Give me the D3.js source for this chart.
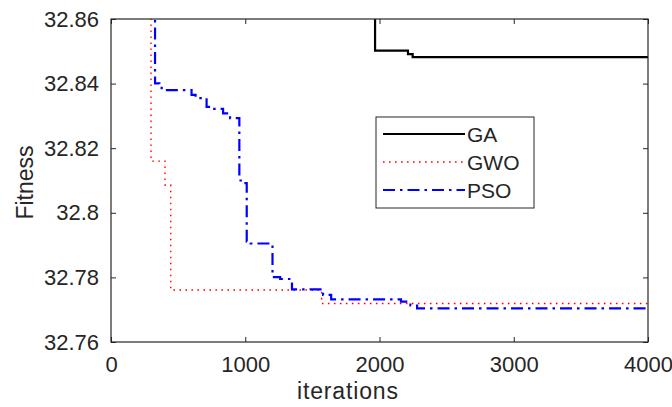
<!DOCTYPE html>
<html>
<head>
<meta charset="utf-8">
<script src="https://cdn.jsdelivr.net/npm/d3@7"></script>
<style>
  html, body { margin: 0; padding: 0; background: #fff; }
  svg { display: block; font-family: "Liberation Sans", Arial, sans-serif; }
</style>
</head>
<body>
<svg id="chart" width="672" height="407"></svg>
<script>
// Best fitness per iteration (step changes only; each value holds until the next step)
const gaIter = [1, 1967, 2212, 2247, 4000];
const gaFit  = [32.95, 32.8502, 32.8491, 32.8482, 32.8482];

const gwoIter = [1, 298, 402, 445, 1569, 4000];
const gwoFit  = [32.95, 32.8160, 32.8086, 32.7761, 32.7719, 32.7719];

const psoIter = [1, 328, 360, 377, 390, 600, 630, 712, 760, 835, 887, 956, 985,
                 1011, 1040, 1203, 1260, 1348, 1580, 1640, 2160, 2230, 2280, 4000];
const psoFit  = [32.95, 32.8401, 32.8396, 32.8386, 32.8380, 32.8365, 32.8355, 32.8328,
                 32.8322, 32.8308, 32.8293, 32.8100, 32.8092, 32.7911, 32.7905, 32.7801,
                 32.7795, 32.7763, 32.7746, 32.7732, 32.7725, 32.7713, 32.7704, 32.7704];

const xTicks = [0, 1000, 2000, 3000, 4000];
const yTicks = [32.76, 32.78, 32.80, 32.82, 32.84, 32.86];
const yTickLabels = ["32.76", "32.78", "32.8", "32.82", "32.84", "32.86"];

const seriesNames = ["GA", "GWO", "PSO"];

const svg = d3.select("#chart");
const plot = { left: 111, right: 648, top: 19, bottom: 342 };
const axisColor = "#262626";

const x = d3.scaleLinear().domain([0, 4000]).range([plot.left, plot.right]);
const y = d3.scaleLinear().domain([32.76, 32.86]).range([plot.bottom, plot.top]);

svg.append("defs").append("clipPath").attr("id", "plotClip")
  .append("rect")
  .attr("x", plot.left).attr("y", plot.top)
  .attr("width", plot.right - plot.left).attr("height", plot.bottom - plot.top);

// Axes with inward ticks on all four sides
const tickLen = 5;
const bottomAxis = d3.axisBottom(x).tickValues(xTicks).tickSizeInner(-tickLen).tickSizeOuter(0)
  .tickPadding(14).tickFormat(d3.format("d"));
const topAxis = d3.axisTop(x).tickValues(xTicks).tickSizeInner(-tickLen).tickSizeOuter(0).tickFormat("");
const leftAxis = d3.axisLeft(y).tickValues(yTicks).tickSizeInner(-tickLen).tickSizeOuter(0)
  .tickPadding(12).tickFormat((d, i) => yTickLabels[i]);
const rightAxis = d3.axisRight(y).tickValues(yTicks).tickSizeInner(-tickLen).tickSizeOuter(0).tickFormat("");

function styleAxis(g) {
  g.select(".domain").remove();
  g.selectAll(".tick line").attr("stroke", axisColor).attr("stroke-width", 1);
  g.selectAll(".tick text").attr("fill", axisColor).attr("font-size", 22)
    .attr("font-family", "'Liberation Sans', Arial, sans-serif");
}

svg.append("g").attr("transform", `translate(0,${plot.bottom})`).call(bottomAxis).call(styleAxis);
svg.append("g").attr("transform", `translate(0,${plot.top})`).call(topAxis).call(styleAxis);
svg.append("g").attr("transform", `translate(${plot.left},0)`).call(leftAxis).call(styleAxis);
svg.append("g").attr("transform", `translate(${plot.right},0)`).call(rightAxis).call(styleAxis);

// Series lines
const stepLine = d3.line().x(d => x(d[0])).y(d => y(d[1])).curve(d3.curveStepAfter);
const lines = svg.append("g").attr("clip-path", "url(#plotClip)");

const series = [
  { name: seriesNames[0], iter: gaIter, fit: gaFit, color: "#000000", width: 2.2, dash: null },
  { name: seriesNames[1], iter: gwoIter, fit: gwoFit, color: "#ff0000", width: 1.4, dash: "1.6,4.4" },
  { name: seriesNames[2], iter: psoIter, fit: psoFit, color: "#0000ff", width: 2.2, dash: "12,5,2.5,5" }
];

series.forEach(s => {
  lines.append("path")
    .datum(s.iter.map((t, i) => [t, s.fit[i]]))
    .attr("d", stepLine)
    .attr("fill", "none")
    .attr("stroke", s.color)
    .attr("stroke-width", s.width)
    .attr("stroke-dasharray", s.dash);
});

// Plot box
svg.append("rect")
  .attr("x", plot.left).attr("y", plot.top)
  .attr("width", plot.right - plot.left).attr("height", plot.bottom - plot.top)
  .attr("fill", "none").attr("stroke", axisColor).attr("stroke-width", 1.2);

// Axis titles
svg.append("text")
  .attr("x", 297).attr("y", 399)
  .attr("font-size", 23).attr("fill", axisColor)
  .attr("textLength", 101).attr("lengthAdjust", "spacing")
  .text("iterations");

svg.append("text")
  .attr("transform", `translate(33,${(plot.top + plot.bottom) / 2 + 2}) rotate(-90)`)
  .attr("text-anchor", "middle")
  .attr("font-size", 23).attr("fill", axisColor)
  .text("Fitness");

// Legend
const legend = svg.append("g");
legend.append("rect")
  .attr("x", 376).attr("y", 117).attr("width", 158).attr("height", 91)
  .attr("fill", "#fff").attr("stroke", axisColor).attr("stroke-width", 1);

series.forEach((s, i) => {
  const ly = 134 + i * 28;
  legend.append("line")
    .attr("x1", 383).attr("x2", 465).attr("y1", ly).attr("y2", ly)
    .attr("stroke", s.color).attr("stroke-width", s.width)
    .attr("stroke-dasharray", s.dash);
  legend.append("text")
    .attr("x", 467).attr("y", ly).attr("dy", "0.36em")
    .attr("font-size", 21).attr("fill", axisColor)
    .text(s.name);
});
</script>
</body>
</html>
